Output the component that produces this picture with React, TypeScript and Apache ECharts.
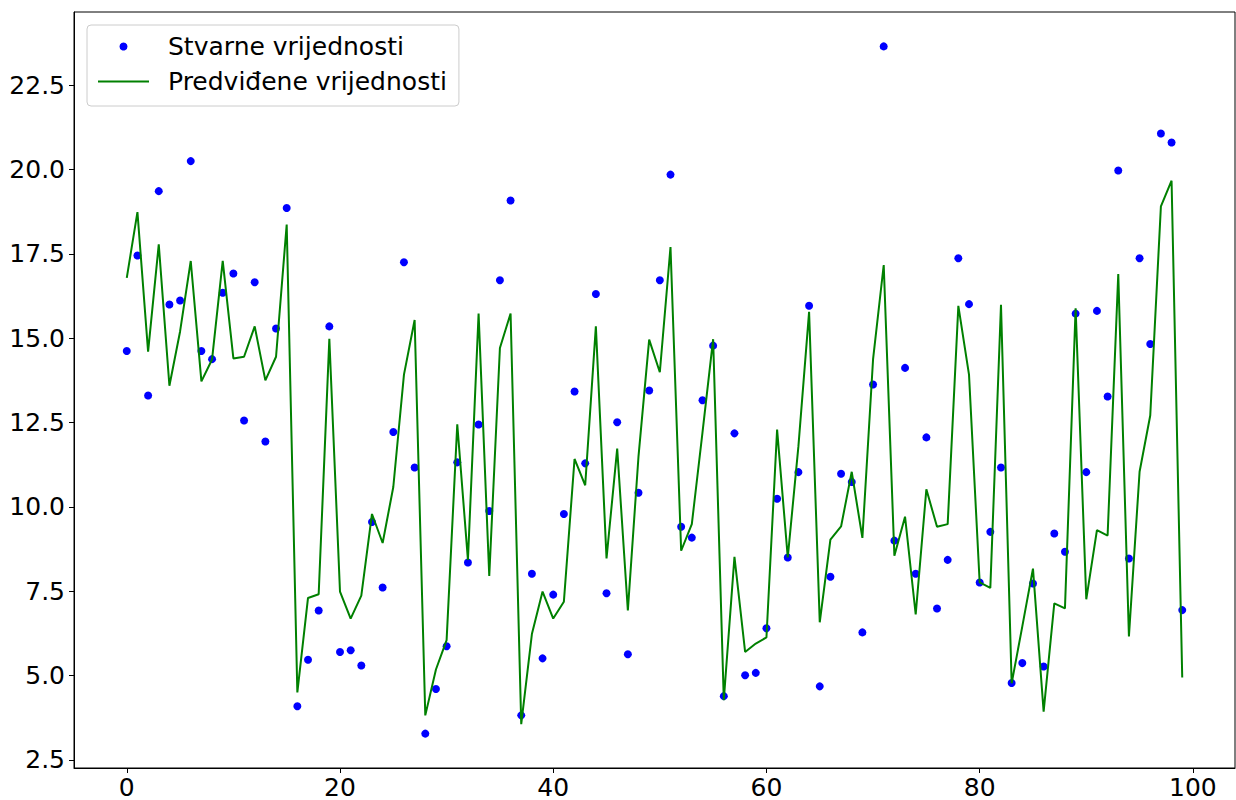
import React, { useEffect, useRef } from "react";
import * as echarts from "echarts";

const seriesNames = ["Stvarne vrijednosti", "Predviđene vrijednosti"];

const actualValues = [
  14.62, 17.45, 13.3, 19.36, 16.0, 16.12, 20.25, 14.62, 14.38, 16.35,
  16.92, 12.56, 16.66, 11.94, 15.29, 18.86, 4.09, 5.47, 6.93, 15.35,
  5.7, 5.75, 5.3, 9.55, 7.61, 12.22, 17.25, 11.17, 3.28, 4.6,
  5.87, 11.32, 8.35, 12.44, 9.88, 16.72, 19.08, 3.82, 8.02, 5.51,
  7.4, 9.79, 13.42, 11.29, 16.31, 7.44, 12.51, 5.63, 10.42, 13.45,
  16.72, 19.85, 9.41, 9.09, 13.16, 14.78, 4.39, 12.18, 5.01, 5.08,
  6.4, 10.24, 8.5, 11.03, 15.96, 4.68, 7.93, 10.98, 10.74, 6.28,
  13.63, 23.65, 9.0, 14.12, 8.02, 12.06, 6.99, 8.43, 17.37, 16.01,
  7.76, 9.26, 11.17, 4.78, 5.37, 7.73, 5.27, 9.21, 8.67, 15.73,
  11.03, 15.81, 13.27, 19.97, 8.47, 17.37, 14.83, 21.07, 20.8, 6.94,
];

const predictedValues = [
  16.79, 18.74, 14.6, 17.78, 13.59, 15.2, 17.29, 13.72, 14.37, 17.29,
  14.4, 14.45, 15.35, 13.75, 14.45, 18.37, 4.5, 7.3, 7.41, 14.98,
  7.49, 6.69, 7.37, 9.79, 8.93, 10.59, 13.92, 15.54, 3.82, 5.18,
  6.05, 12.45, 8.43, 15.73, 7.95, 14.71, 15.73, 3.56, 6.23, 7.49,
  6.69, 7.19, 11.42, 10.64, 15.35, 8.47, 11.73, 6.93, 11.5, 14.96,
  13.99, 17.7, 8.7, 9.49, 12.2, 14.97, 4.27, 8.52, 5.7, 5.95,
  6.13, 12.29, 8.5, 11.8, 15.78, 6.58, 9.03, 9.42, 11.04, 9.08,
  14.37, 17.17, 8.55, 9.71, 6.81, 10.52, 9.41, 9.49, 15.96, 13.92,
  7.76, 7.6, 15.99, 4.77, 6.46, 8.17, 3.93, 7.14, 6.99, 15.89,
  7.26, 9.31, 9.15, 16.9, 6.16, 11.04, 12.71, 18.91, 19.67, 4.94,
];

const xTicks = [0, 20, 40, 60, 80, 100];
const yTicks = [2.5, 5.0, 7.5, 10.0, 12.5, 15.0, 17.5, 20.0, 22.5];

const FONT = "DejaVu Sans";

export default function App() {
  const ref = useRef<HTMLDivElement>(null);

  useEffect(() => {
    if (!ref.current) return;
    const chart = echarts.init(ref.current, undefined, { renderer: "svg" });

    const actualData = actualValues.map((v, i) => [i, v]);
    const predictedData = predictedValues.map((v, i) => [i, v]);

    chart.setOption({
      animation: false,
      backgroundColor: "#ffffff",
      grid: {
        left: 74,
        right: 1,
        top: 12,
        bottom: 32,
        show: true,
        borderColor: "#000000",
        borderWidth: 1,
        backgroundColor: "transparent",
      },
      legend: {
        show: true,
        orient: "vertical",
        left: 87,
        top: 25,
        padding: [9, 12, 12, 10],
        itemGap: 10,
        itemWidth: 51,
        itemHeight: 8,
        selectedMode: false,
        borderColor: "#cccccc",
        borderWidth: 1,
        borderRadius: 4,
        backgroundColor: "rgba(255,255,255,0.8)",
        textStyle: {
          fontFamily: FONT,
          fontSize: 25,
          color: "#000000",
          padding: [0, 0, 0, 14],
        },
        data: [
          { name: seriesNames[0], icon: "circle", itemStyle: { color: "#0000ff", opacity: 1 } },
          {
            name: seriesNames[1],
            itemStyle: { color: "rgba(0,0,0,0)", opacity: 0, borderWidth: 0 },
            lineStyle: { color: "#008000", width: 2, opacity: 1 },
          },
        ],
      },
      xAxis: {
        type: "value",
        min: -4.95,
        max: 103.95,
        splitLine: { show: false },
        axisLine: { show: true, onZero: false, lineStyle: { color: "#000000", width: 1 } },
        axisTick: {
          show: true,
          inside: false,
          length: 5,
          customValues: xTicks,
          lineStyle: { color: "#000000", width: 1 },
        },
        axisLabel: {
          show: true,
          customValues: xTicks,
          margin: 7,
          lineHeight: 24,
          fontFamily: FONT,
          fontSize: 25,
          color: "#000000",
          formatter: (v: number) => String(Math.round(v)),
        },
      },
      yAxis: {
        type: "value",
        min: 2.26,
        max: 24.67,
        splitLine: { show: false },
        axisLine: { show: true, onZero: false, lineStyle: { color: "#000000", width: 1 } },
        axisTick: {
          show: true,
          inside: false,
          length: 5,
          customValues: yTicks,
          lineStyle: { color: "#000000", width: 1 },
        },
        axisLabel: {
          show: true,
          customValues: yTicks,
          margin: 9,
          fontFamily: FONT,
          fontSize: 25,
          color: "#000000",
          formatter: (v: number) => v.toFixed(1),
        },
      },
      series: [
        {
          name: seriesNames[0],
          type: "scatter",
          data: actualData,
          symbol: "circle",
          symbolSize: 8,
          itemStyle: { color: "#0000ff", opacity: 1 },
          z: 2,
        },
        {
          name: seriesNames[1],
          type: "line",
          data: predictedData,
          symbol: "none",
          showSymbol: false,
          lineStyle: { color: "#008000", width: 2 },
          itemStyle: { color: "#008000" },
          z: 3,
        },
      ],
    });

    return () => {
      chart.dispose();
    };
  }, []);

  return (
    <div
      ref={ref}
      style={{
        position: "fixed",
        left: 0,
        top: 0,
        width: 1236,
        height: 800,
        background: "#ffffff",
      }}
    />
  );
}
